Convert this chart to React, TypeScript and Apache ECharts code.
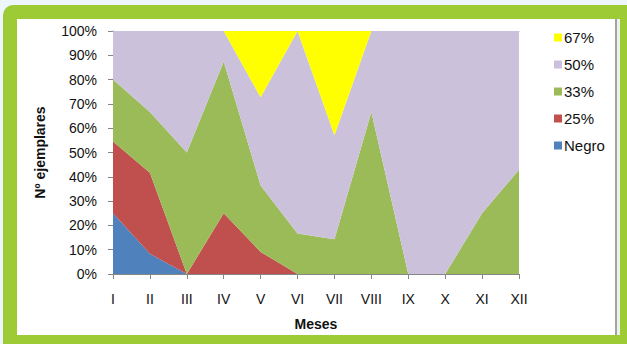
import React, { useEffect, useRef } from "react";
import * as echarts from "echarts";

// Month labels (Roman numerals)
const months = ["I", "II", "III", "IV", "V", "VI", "VII", "VIII", "IX", "X", "XI", "XII"];

// Share of specimens per category and month (%), stacked to 100%
const negro = [25, 8.3, 0, 0, 0, 0, 0, 0, 0, 0, 0, 0];
const p25 = [29.5, 33.4, 0, 25, 9.1, 0, 0, 0, 0, 0, 0, 0];
const p33 = [25.5, 25, 50, 62.5, 27.3, 16.7, 14.3, 66.7, 0, 0, 25, 42.9];
const p50 = [20, 33.3, 50, 12.5, 36.3, 83.3, 42.8, 33.3, 100, 100, 75, 57.1];
const p67 = [0, 0, 0, 0, 27.3, 0, 42.9, 0, 0, 0, 0, 0];

const seriesNames = ["Negro", "25%", "33%", "50%", "67%"];
const seriesData = [negro, p25, p33, p50, p67];
const seriesColors = ["#4f81bd", "#c0504d", "#9bbb59", "#ccc1da", "#ffff00"];
const legendOrder = ["67%", "50%", "33%", "25%", "Negro"];

const FONT = 'Arial, "Liberation Sans", sans-serif';

export default function App() {
  const ref = useRef<HTMLDivElement>(null);

  useEffect(() => {
    document.body.style.margin = "0";
    if (!ref.current) return;
    const chart = echarts.init(ref.current, undefined, { renderer: "svg" });
    chart.setOption({
      animation: false,
      textStyle: { fontFamily: FONT },
      grid: { left: 113, top: 31, right: 108, bottom: 70, containLabel: false },
      legend: {
        data: legendOrder,
        orient: "vertical",
        left: 549,
        top: 25,
        icon: "rect",
        itemWidth: 8,
        itemHeight: 8,
        itemGap: 12,
        textStyle: { fontSize: 15, color: "#111", fontFamily: FONT, padding: [0, 0, 0, -3] },
      },
      xAxis: [
        {
          type: "category",
          data: months,
          boundaryGap: false,
          axisLine: { show: true, lineStyle: { color: "#868686", width: 1 } },
          axisTick: { show: true, length: 5, lineStyle: { color: "#868686" } },
          axisLabel: { fontSize: 14, color: "#111", margin: 18, fontFamily: FONT },
          name: "Meses",
          nameLocation: "middle",
          nameGap: 43,
          nameTextStyle: { fontSize: 14, fontWeight: "bold", color: "#111", fontFamily: FONT },
          splitLine: { show: false },
        },
        {
          type: "category",
          data: months,
          position: "top",
          boundaryGap: false,
          axisLine: { show: true, lineStyle: { color: "#b4b4b4", width: 1 } },
          axisTick: { show: false },
          axisLabel: { show: false },
          splitLine: { show: false },
        },
      ],
      yAxis: {
        type: "value",
        min: 0,
        max: 100,
        interval: 10,
        axisLine: { show: true, lineStyle: { color: "#868686", width: 1 } },
        axisTick: { show: true, length: 5, lineStyle: { color: "#868686" } },
        axisLabel: { fontSize: 14, color: "#111", margin: 16, formatter: "{value}%", fontFamily: FONT },
        splitLine: { show: false },
        name: "Nº ejemplares",
        nameLocation: "middle",
        nameGap: 66,
        nameTextStyle: { fontSize: 14, fontWeight: "bold", color: "#111", fontFamily: FONT },
      },
      series: seriesNames.map((name, i) => ({
        name,
        type: "line",
        stack: "total",
        data: seriesData[i],
        symbol: "none",
        showSymbol: false,
        lineStyle: { width: 0 },
        areaStyle: { color: seriesColors[i], opacity: 1 },
        itemStyle: { color: seriesColors[i] },
        emphasis: { disabled: true },
        z: 2,
      })),
    });
    return () => chart.dispose();
  }, []);

  return (
    <div style={{ position: "relative", width: 627, height: 344, background: "#eef6fd", overflow: "hidden" }}>
      <div
        style={{
          position: "absolute",
          left: 3,
          top: 5,
          width: 624,
          height: 339,
          background: "#9dcb36",
          borderTopLeftRadius: 10,
        }}
      />
      <div
        style={{
          position: "absolute",
          left: 17,
          top: 19,
          width: 603,
          height: 316,
          background: "#ffffff",
        }}
      />
      <div
        style={{
          position: "absolute",
          left: 615,
          top: 19,
          width: 2,
          height: 316,
          background: "#a3a3a3",
        }}
      />
      <div
        style={{
          position: "absolute",
          left: 617,
          top: 19,
          width: 3,
          height: 316,
          background: "#eef2ec",
        }}
      />
      <div ref={ref} style={{ position: "absolute", left: 0, top: 0, width: 627, height: 344 }} />
    </div>
  );
}
